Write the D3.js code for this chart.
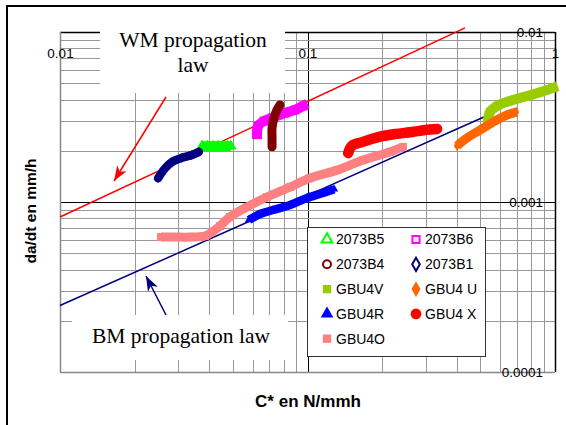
<!DOCTYPE html>
<html>
<head>
<meta charset="utf-8">
<script src="https://cdn.jsdelivr.net/npm/d3@7"></script>
<style>
  body { margin: 0; background: #fff; }
  svg { display: block; }
</style>
</head>
<body>
<div id="chart"></div>
<script>
// axis ticks
const xTicks = [0.01, 0.1, 1]
const xTickLabels = ["0.01", "0.1", "1"]
const yTicks = [0.0001, 0.001, 0.01]
const yTickLabels = ["0.0001", "0.001", "0.01"]

// propagation laws [C*, da/dt]
const wmLaw = [[0.01, 0.000816], [0.433, 0.01057]]
const bmLaw = [[0.01, 0.000246], [0.516, 0.00316]]

// test series [C*, da/dt]
const s2073B5 = [[0.0375, 0.00213], [0.0395, 0.00213], [0.0415, 0.00213], [0.0435, 0.00213], [0.0455, 0.00213], [0.0475, 0.00213], [0.049, 0.00213]]
const s2073B6 = [[0.0625, 0.00251], [0.0631, 0.0028], [0.0667, 0.00299], [0.0719, 0.00312], [0.0811, 0.00334], [0.089, 0.00348], [0.0959, 0.00367]]
const s2073B4 = [[0.0719, 0.00211], [0.0719, 0.00238], [0.0719, 0.00272], [0.0732, 0.00312], [0.0753, 0.00348], [0.0774, 0.00372]]
const s2073B1 = [[0.0249, 0.00138], [0.0266, 0.00158], [0.0284, 0.00172], [0.0311, 0.00182], [0.0341, 0.00189], [0.0364, 0.00197]]
const sGBU4V = [[0.536, 0.00296], [0.546, 0.00338], [0.583, 0.00367], [0.658, 0.00393], [0.771, 0.0042], [0.878, 0.00444], [0.982, 0.00469]]
const sGBU4U = [[0.402, 0.00214], [0.441, 0.00238], [0.498, 0.00265], [0.562, 0.00295], [0.64, 0.00325], [0.696, 0.00338]]
const sGBU4R = [[0.058, 0.000784], [0.0643, 0.00085], [0.0725, 0.000897], [0.085, 0.00096], [0.0995, 0.001056], [0.1155, 0.00113], [0.128, 0.00119]]
const sGBU4X = [[0.146, 0.00194], [0.151, 0.00214], [0.166, 0.00225], [0.193, 0.00241], [0.226, 0.00251], [0.264, 0.00258], [0.298, 0.00265], [0.334, 0.00269]]
const sGBU4O = [[0.0256, 0.000622], [0.0291, 0.000622], [0.0335, 0.000622], [0.0385, 0.000631], [0.0411, 0.000666], [0.0443, 0.000722], [0.0486, 0.000817], [0.057, 0.000935], [0.0686, 0.00107], [0.085, 0.001225], [0.102, 0.00138], [0.132, 0.00154], [0.168, 0.001765], [0.215, 0.00197], [0.243, 0.00211]]

const seriesNames = ["2073B5", "2073B6", "2073B4", "2073B1", "GBU4V", "GBU4 U", "GBU4R", "GBU4 X", "GBU4O"]
const seriesData = [s2073B5, s2073B6, s2073B4, s2073B1, sGBU4V, sGBU4U, sGBU4R, sGBU4X, sGBU4O]

// styles per series (same order)
const styles = [
  { color: "#00ff00", shape: d3.symbolTriangle, hollow: true, width: 10, cap: "butt", size: 60 },
  { color: "#ff00ff", shape: d3.symbolSquare, hollow: true, width: 10, cap: "square", size: 80 },
  { color: "#800000", shape: d3.symbolCircle, hollow: true, width: 9, cap: "round", size: 50 },
  { color: "#000080", shape: d3.symbolDiamond, hollow: true, width: 8.5, cap: "round", size: 30 },
  { color: "#99cc00", shape: d3.symbolSquare, hollow: false, width: 10, cap: "square", size: 70 },
  { color: "#ff6600", shape: d3.symbolDiamond, hollow: false, width: 9, cap: "butt", size: 35 },
  { color: "#0000ff", shape: d3.symbolTriangle, hollow: false, width: 8.5, cap: "butt", size: 30 },
  { color: "#ff0000", shape: d3.symbolCircle, hollow: false, width: 10.5, cap: "round", size: 60 },
  { color: "#ff8080", shape: d3.symbolSquare, hollow: false, width: 9, cap: "butt", size: 64 }
]

const W = 566, H = 425
const PLOT = { LEFT: 60, RIGHT: 555, TOP: 32, BOTTOM: 372 }

const svg = d3.select("#chart").append("svg")
  .attr("width", W)
  .attr("height", H)

const x = d3.scaleLog().domain([0.01, 1]).range([PLOT.LEFT, PLOT.RIGHT])
const y = d3.scaleLog().domain([0.0001, 0.01]).range([PLOT.BOTTOM, PLOT.TOP])

// outer frame (only left and top visible)
svg.append("path")
  .attr("d", `M7,${H} L7,6 L${W},6`)
  .attr("fill", "none")
  .attr("stroke", "#000")
  .attr("stroke-width", 2)

// grid: 1..9 in every decade
const xGrid = x.ticks(30)
const yGrid = y.ticks(30)
const isMajor = v => Math.abs(Math.log10(v) - Math.round(Math.log10(v))) < 1e-6

const grid = svg.append("g").attr("class", "grid")
grid.selectAll("line.vx")
  .data(xGrid)
  .enter().append("line")
  .attr("x1", d => Math.round(x(d)) + 0.5)
  .attr("x2", d => Math.round(x(d)) + 0.5)
  .attr("y1", PLOT.TOP)
  .attr("y2", PLOT.BOTTOM)
  .attr("stroke", d => (isMajor(d) && d !== 0.01) ? "#000" : "#999")
grid.selectAll("line.hy")
  .data(yGrid)
  .enter().append("line")
  .attr("y1", d => Math.round(y(d)) + 0.5)
  .attr("y2", d => Math.round(y(d)) + 0.5)
  .attr("x1", PLOT.LEFT)
  .attr("x2", PLOT.RIGHT)
  .attr("stroke", d => (isMajor(d) && d !== 0.0001) ? "#000" : "#999")

// plot frame: left/bottom grey, top/right black
svg.append("line")
  .attr("x1", PLOT.RIGHT + 0.5).attr("x2", PLOT.RIGHT + 0.5)
  .attr("y1", PLOT.TOP).attr("y2", PLOT.BOTTOM)
  .attr("stroke", "#000").attr("stroke-width", 1.5)
svg.append("line")
  .attr("x1", PLOT.LEFT).attr("x2", PLOT.RIGHT)
  .attr("y1", PLOT.TOP + 0.5).attr("y2", PLOT.TOP + 0.5)
  .attr("stroke", "#000").attr("stroke-width", 1.5)
svg.append("line")
  .attr("x1", PLOT.LEFT + 0.5).attr("x2", PLOT.LEFT + 0.5)
  .attr("y1", PLOT.TOP).attr("y2", PLOT.BOTTOM)
  .attr("stroke", "#888").attr("stroke-width", 1.5)
svg.append("line")
  .attr("x1", PLOT.LEFT).attr("x2", PLOT.RIGHT)
  .attr("y1", PLOT.BOTTOM + 0.5).attr("y2", PLOT.BOTTOM + 0.5)
  .attr("stroke", "#888").attr("stroke-width", 1.5)

const line = d3.line().x(d => x(d[0])).y(d => y(d[1]))
const curve = d3.line().x(d => x(d[0])).y(d => y(d[1])).curve(d3.curveCatmullRom)

// propagation laws
svg.append("path").datum(wmLaw)
  .attr("d", line).attr("fill", "none")
  .attr("stroke", "#ff0000").attr("stroke-width", 1.5)
svg.append("path").datum(bmLaw)
  .attr("d", line).attr("fill", "none")
  .attr("stroke", "#000080").attr("stroke-width", 1.5)

// series bands (dense markers)
seriesData.forEach((data, i) => {
  const st = styles[i]
  const g = svg.append("g").attr("class", "series")
  g.append("path").datum(data)
    .attr("d", curve)
    .attr("fill", "none")
    .attr("stroke", st.color)
    .attr("stroke-width", st.width)
    .attr("stroke-linecap", st.cap)
    .attr("stroke-linejoin", "round")
  g.selectAll("path.pt")
    .data(data)
    .enter().append("path")
    .attr("class", "pt")
    .attr("transform", d => `translate(${x(d[0])},${y(d[1])})`)
    .attr("d", d3.symbol().type(st.shape).size(st.size))
    .attr("fill", st.color)
})

// label boxes
svg.append("rect")
  .attr("x", 100).attr("y", 22).attr("width", 185).attr("height", 71)
  .attr("fill", "#fff")
svg.append("rect")
  .attr("x", 72).attr("y", 315).attr("width", 216).attr("height", 45)
  .attr("fill", "#fff")

const serif = "'Liberation Serif', 'Times New Roman', serif"
svg.append("text")
  .attr("x", 193).attr("y", 47)
  .attr("text-anchor", "middle")
  .attr("font-family", serif).attr("font-size", "21.5px")
  .text("WM propagation")
svg.append("text")
  .attr("x", 193).attr("y", 72)
  .attr("text-anchor", "middle")
  .attr("font-family", serif).attr("font-size", "21.5px")
  .text("law")
svg.append("text")
  .attr("x", 181).attr("y", 343)
  .attr("text-anchor", "middle")
  .attr("font-family", serif).attr("font-size", "21.5px")
  .text("BM propagation law")

// arrows
const defs = svg.append("defs")
const addArrow = (id, color) => {
  defs.append("marker")
    .attr("id", id)
    .attr("markerUnits", "userSpaceOnUse")
    .attr("viewBox", "-16 -7 18 14")
    .attr("markerWidth", 18).attr("markerHeight", 14)
    .attr("refX", 0).attr("refY", 0)
    .attr("orient", "auto")
    .append("path")
    .attr("d", "M0,0 L-15,-5.5 L-11,0 L-15,5.5 Z")
    .attr("fill", color)
}
addArrow("arrRed", "#ff0000")
addArrow("arrNavy", "#000080")
svg.append("line")
  .attr("x1", 166).attr("y1", 97).attr("x2", 114).attr("y2", 181)
  .attr("stroke", "#ff0000").attr("stroke-width", 1.5)
  .attr("marker-end", "url(#arrRed)")
svg.append("line")
  .attr("x1", 166).attr("y1", 315).attr("x2", 146).attr("y2", 276)
  .attr("stroke", "#000080").attr("stroke-width", 1.5)
  .attr("marker-end", "url(#arrNavy)")

// legend
const sans = "'Liberation Sans', Arial, sans-serif"
const legend = svg.append("g").attr("class", "legend")
legend.append("rect")
  .attr("x", 307.5).attr("y", 227.5).attr("width", 178).attr("height", 129)
  .attr("fill", "#fff").attr("stroke", "#333").attr("stroke-width", 1)
const items = legend.selectAll("g.item")
  .data(seriesNames)
  .enter().append("g")
  .attr("class", "item")
  .attr("transform", (d, i) => `translate(${i % 2 === 0 ? 327 : 416},${239.5 + Math.floor(i / 2) * 24.8})`)
items.append("path")
  .attr("d", (d, i) => d3.symbol().type(styles[i].shape).size(styles[i].hollow ? 50 : (i === 7 ? 90 : 70))())
  .attr("fill", (d, i) => styles[i].hollow ? "none" : styles[i].color)
  .attr("stroke", (d, i) => styles[i].hollow ? styles[i].color : "none")
  .attr("stroke-width", 2)
items.append("text")
  .attr("x", 9).attr("dy", "0.35em")
  .attr("font-family", sans).attr("font-size", "14px")
  .text(d => d)

// tick labels via axes
const xAxisCall = d3.axisBottom(x)
  .tickValues(xTicks)
  .tickFormat((d, i) => xTickLabels[i])
  .tickSize(0).tickPadding(16)
const xAxis = svg.append("g")
  .attr("transform", `translate(0,${PLOT.TOP})`)
  .call(xAxisCall)
const yAxisCall = d3.axisLeft(y)
  .tickValues(yTicks)
  .tickFormat((d, i) => yTickLabels[i])
  .tickSize(0).tickPadding(12)
const yAxis = svg.append("g")
  .attr("transform", `translate(${PLOT.RIGHT},0)`)
  .call(yAxisCall)
;[xAxis, yAxis].forEach(a => {
  a.select(".domain").remove()
  a.selectAll("text")
    .attr("font-family", sans)
    .attr("font-size", "13.5px")
    .attr("fill", "#000")
})

// axis titles
svg.append("text")
  .attr("x", 308).attr("y", 407)
  .attr("text-anchor", "middle")
  .attr("font-family", sans).attr("font-weight", "bold").attr("font-size", "17px")
  .text("C* en N/mmh")
svg.append("text")
  .attr("transform", "translate(36,211) rotate(-90)")
  .attr("text-anchor", "middle")
  .attr("font-family", sans).attr("font-weight", "bold").attr("font-size", "15.5px")
  .text("da/dt en mm/h")
</script>
</body>
</html>
